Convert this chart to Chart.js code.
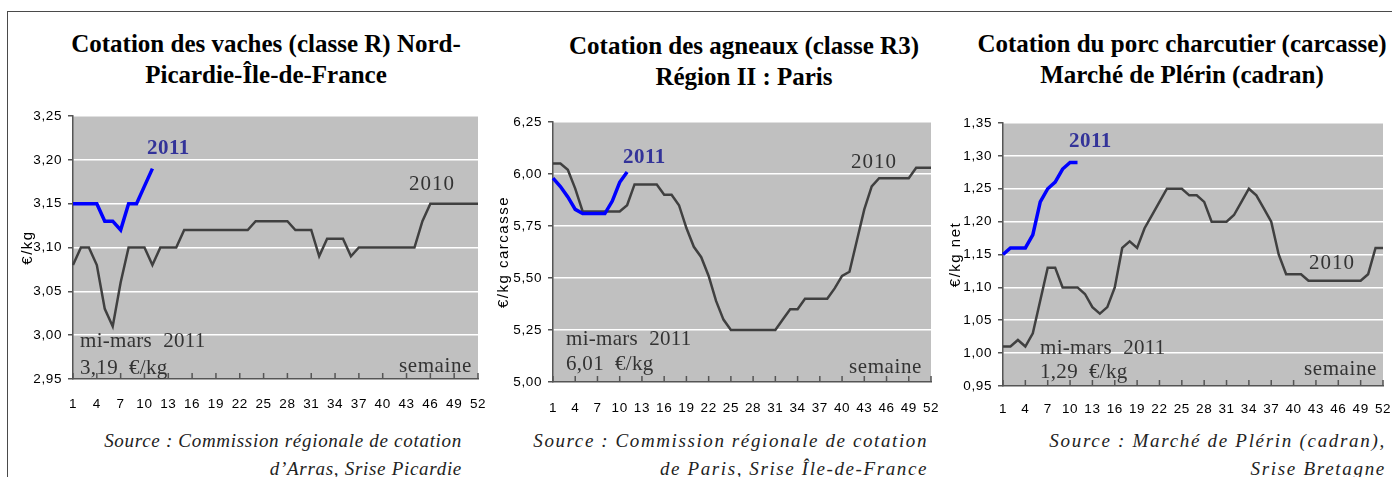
<!DOCTYPE html>
<html><head><meta charset="utf-8">
<script src="https://cdn.jsdelivr.net/npm/chart.js@4.4.1/dist/chart.umd.min.js"></script>
<style>
html,body{margin:0;padding:0;background:#fff;}
body{width:1392px;height:477px;overflow:hidden;position:relative;font-family:"Liberation Serif","Times New Roman",serif;}
.frame{position:absolute;left:7px;top:11px;width:1400px;height:480px;border-left:1.5px solid #4a4a4a;border-top:1.5px solid #4a4a4a;}
.title{position:absolute;text-align:center;font-weight:bold;font-size:25px;line-height:31px;color:#000;white-space:nowrap;}
.src{position:absolute;text-align:right;font-style:italic;font-size:19px;line-height:28px;color:#222;white-space:nowrap;}
canvas{position:absolute;}
</style></head><body>
<div class="frame"></div>
<div class="title" style="left:16px;width:500px;top:28px">Cotation des vaches (classe R) Nord-<br>Picardie-Île-de-France</div>
<div class="title" style="left:494px;width:500px;top:30px">Cotation des agneaux (classe R3)<br>Région II : Paris</div>
<div class="title" style="left:932px;width:500px;top:28px">Cotation du porc charcutier (carcasse)<br>Marché de Plérin (cadran)</div>

<div class="src" style="left:0;width:462px;top:427px;letter-spacing:0.7px">Source : Commission régionale de cotation<br>d’Arras, Srise Picardie</div>
<div class="src" style="left:400px;width:528px;top:427px;letter-spacing:1.6px">Source : Commission régionale de cotation<br>de Paris, Srise Île-de-France</div>
<div class="src" style="left:900px;width:486px;top:427px;letter-spacing:1.7px">Source : Marché de Plérin (cadran),<br>Srise Bretagne</div>

<canvas id="c1" width="480" height="330" style="left:10px;top:100px"></canvas>
<canvas id="c2" width="450" height="330" style="left:490px;top:100px"></canvas>
<canvas id="c3" width="452" height="330" style="left:940px;top:100px"></canvas>

<script>
// ---- data ----
const weeks = ['1','2','3','4','5','6','7','8','9','10','11','12','13','14','15','16','17','18','19','20','21','22','23','24','25','26','27','28','29','30','31','32','33','34','35','36','37','38','39','40','41','42','43','44','45','46','47','48','49','50','51','52'];
const xTickLabels = ['1','4','7','10','13','16','19','22','25','28','31','34','37','40','43','46','49','52'];

const vaches2010 = [3.08,3.10,3.10,3.08,3.03,3.01,3.06,3.10,3.10,3.10,3.08,3.10,3.10,3.10,3.12,3.12,3.12,3.12,3.12,3.12,3.12,3.12,3.12,3.13,3.13,3.13,3.13,3.13,3.12,3.12,3.12,3.09,3.11,3.11,3.11,3.09,3.10,3.10,3.10,3.10,3.10,3.10,3.10,3.10,3.13,3.15,3.15,3.15,3.15,3.15,3.15,3.15];
const vaches2011 = [3.15,3.15,3.15,3.15,3.13,3.13,3.12,3.15,3.15,3.17,3.19];

const agneaux2010 = [6.05,6.05,6.02,5.93,5.82,5.82,5.82,5.82,5.82,5.82,5.85,5.95,5.95,5.95,5.95,5.90,5.90,5.85,5.74,5.65,5.60,5.51,5.39,5.30,5.25,5.25,5.25,5.25,5.25,5.25,5.25,5.30,5.35,5.35,5.40,5.40,5.40,5.40,5.45,5.51,5.53,5.68,5.83,5.94,5.98,5.98,5.98,5.98,5.98,6.03,6.03,6.03];
const agneaux2011 = [5.98,5.94,5.89,5.83,5.81,5.81,5.81,5.81,5.87,5.96,6.01];

const porc2010 = [1.01,1.01,1.02,1.01,1.03,1.08,1.13,1.13,1.10,1.10,1.10,1.09,1.07,1.06,1.07,1.10,1.16,1.17,1.16,1.19,1.21,1.23,1.25,1.25,1.25,1.24,1.24,1.23,1.20,1.20,1.20,1.21,1.23,1.25,1.24,1.22,1.20,1.15,1.12,1.12,1.12,1.11,1.11,1.11,1.11,1.11,1.11,1.11,1.11,1.12,1.16,1.16];
const porc2011 = [1.15,1.16,1.16,1.16,1.18,1.23,1.25,1.26,1.28,1.29,1.29];

const vachesTicks = [2.95,3.25,0.05];
const agneauxTicks = [5.00,6.25,0.25];
const porcTicks = [0.95,1.35,0.05];

// ---- plugins ----
const bgPlugin = {
  id:'bg',
  beforeDraw(chart){
    const {ctx, chartArea:a} = chart;
    ctx.save(); ctx.fillStyle = '#c0c0c0';
    ctx.fillRect(a.left, a.top, a.right - a.left, a.bottom - a.top);
    ctx.restore();
  }
};
const annoPlugin = {
  id:'anno',
  afterDatasetsDraw(chart, args, opts){
    const {ctx, chartArea:a} = chart;
    const xs = chart.scales.x;
    ctx.save();
    ctx.strokeStyle = '#555'; ctx.lineWidth = 1.5;
    xs.ticks.forEach((t, i) => {
      if (xTickLabels.includes(weeks[i])) {
        const x = xs.getPixelForTick(i);
        ctx.beginPath(); ctx.moveTo(x, a.bottom); ctx.lineTo(x, a.bottom - 6); ctx.stroke();
      }
    });
    (opts.items || []).forEach(it => {
      ctx.font = it.font;
      ctx.fillStyle = it.color;
      ctx.letterSpacing = (it.ls || 0) + 'px';
      ctx.textBaseline = 'alphabetic';
      ctx.textAlign = it.align === 'right' ? 'right' : 'left';
      const x = it.align === 'right' ? a.right + it.dx : a.left + it.dx;
      ctx.fillText(it.text, x, a.top + it.dy);
    });
    ctx.letterSpacing = '0px';
    ctx.restore();
  }
};

function wrapSpacing(scale){
  if (scale._lsWrapped) return;
  scale._lsWrapped = true;
  const dt = scale.drawTitle, dl = scale.drawLabels;
  scale.drawTitle = function(...a){ const c = this.ctx; c.letterSpacing = '1.5px'; dt.apply(this, a); c.letterSpacing = '0px'; };
  scale.drawLabels = function(...a){ const c = this.ctx; c.letterSpacing = '0.6px'; dl.apply(this, a); c.letterSpacing = '0px'; };
}

const SERIF = '"Liberation Serif", "Times New Roman", serif';
const SANS = '"Liberation Sans", Arial, sans-serif';

function makeChart(id, c){
  const items = [
    {text:'2011', dx:c.a2011[0], dy:c.a2011[1], font:'bold 21px ' + SERIF, color:'#333399', ls:0.5},
    {text:'2010', dx:c.a2010[0], dy:c.a2010[1], font:'21px ' + SERIF, color:'#333', ls:1},
    {text:'mi-mars  2011', dx:c.aMi[0], dy:c.aMi[1], font:'21px ' + SERIF, color:'#333', ls:0.3},
    {text:c.valText, dx:c.aMi[0], dy:c.aVal, font:'21px ' + SERIF, color:'#333', ls:0.3},
    {text:'semaine', dx:c.aSem[0], dy:c.aSem[1], font:'21px ' + SERIF, color:'#333', ls:0.6, align:'right'}
  ];
  return new Chart(document.getElementById(id), {
    type:'line',
    data:{labels:weeks, datasets:[
      {label:'2011', data:c.s2011, borderColor:'#0000ff', borderWidth:3.5, pointRadius:0, tension:0, order:0, fill:false},
      {label:'2010', data:c.s2010, borderColor:'#404040', borderWidth:2.5, pointRadius:0, tension:0, order:1, fill:false}
    ]},
    options:{
      responsive:false, animation:false, events:[],
      layout:{padding:{left:0, right:c.padR, top:c.padT, bottom:0}},
      plugins:{legend:{display:false}, tooltip:{enabled:false}, anno:{items}},
      scales:{
        x:{type:'category', offset:false,
           grid:{display:false, drawTicks:false},
           border:{display:true, color:'#555', width:1.5},
           ticks:{autoSkip:false, maxRotation:0, minRotation:0, padding:c.xPad, color:'#000',
                  font:{family:SANS, size:13.5},
                  callback:(v, i) => xTickLabels.includes(weeks[i]) ? weeks[i] : ''},
           afterFit:s => { s.height = c.xH; s.paddingLeft = 0; s.paddingRight = 0; wrapSpacing(s); }},
        y:{min:c.ticks[0], max:c.ticks[1],
           ticks:{stepSize:c.ticks[2], padding:6, color:'#000', font:{family:SANS, size:13.5},
                  callback:v => Number(v).toFixed(2).replace('.', ',')},
           grid:{color:'#ffffff', lineWidth:1.5, tickColor:'#555', tickLength:5, drawTicks:true},
           border:{display:true, color:'#555', width:1.5},
           title:{display:true, text:c.yTitle, color:'#000', font:{family:SANS, size:15}, padding:{top:c.tPad, bottom:0}},
           afterFit:s => { s.width = 63; wrapSpacing(s); }}
      }
    },
    plugins:[bgPlugin, annoPlugin]
  });
}

makeChart('c1', {s2010:vaches2010, s2011:vaches2011, ticks:vachesTicks, yTitle:'€/kg',
  padR:12, padT:16, xH:51, xPad:17, tPad:9,
  a2011:[74,38], a2010:[336,74], aMi:[7,231], aVal:258, aSem:[-6,256], valText:'3,19  €/kg'});
makeChart('c2', {s2010:agneaux2010, s2011:agneaux2011, ticks:agneauxTicks, yTitle:'€/kg carcasse',
  padR:9, padT:22, xH:48, xPad:18, tPad:5,
  a2011:[70,41], a2010:[298,46], aMi:[13,223], aVal:248, aSem:[-9,251], valText:'6,01  €/kg'});
makeChart('c3', {s2010:porc2010, s2011:porc2011, ticks:porcTicks, yTitle:'€/kg net',
  padR:9, padT:23, xH:44, xPad:15, tPad:7,
  a2011:[66,24], a2010:[306,146], aMi:[37,231], aVal:255, aSem:[-6,252], valText:'1,29  €/kg'});
</script>
</body></html>
